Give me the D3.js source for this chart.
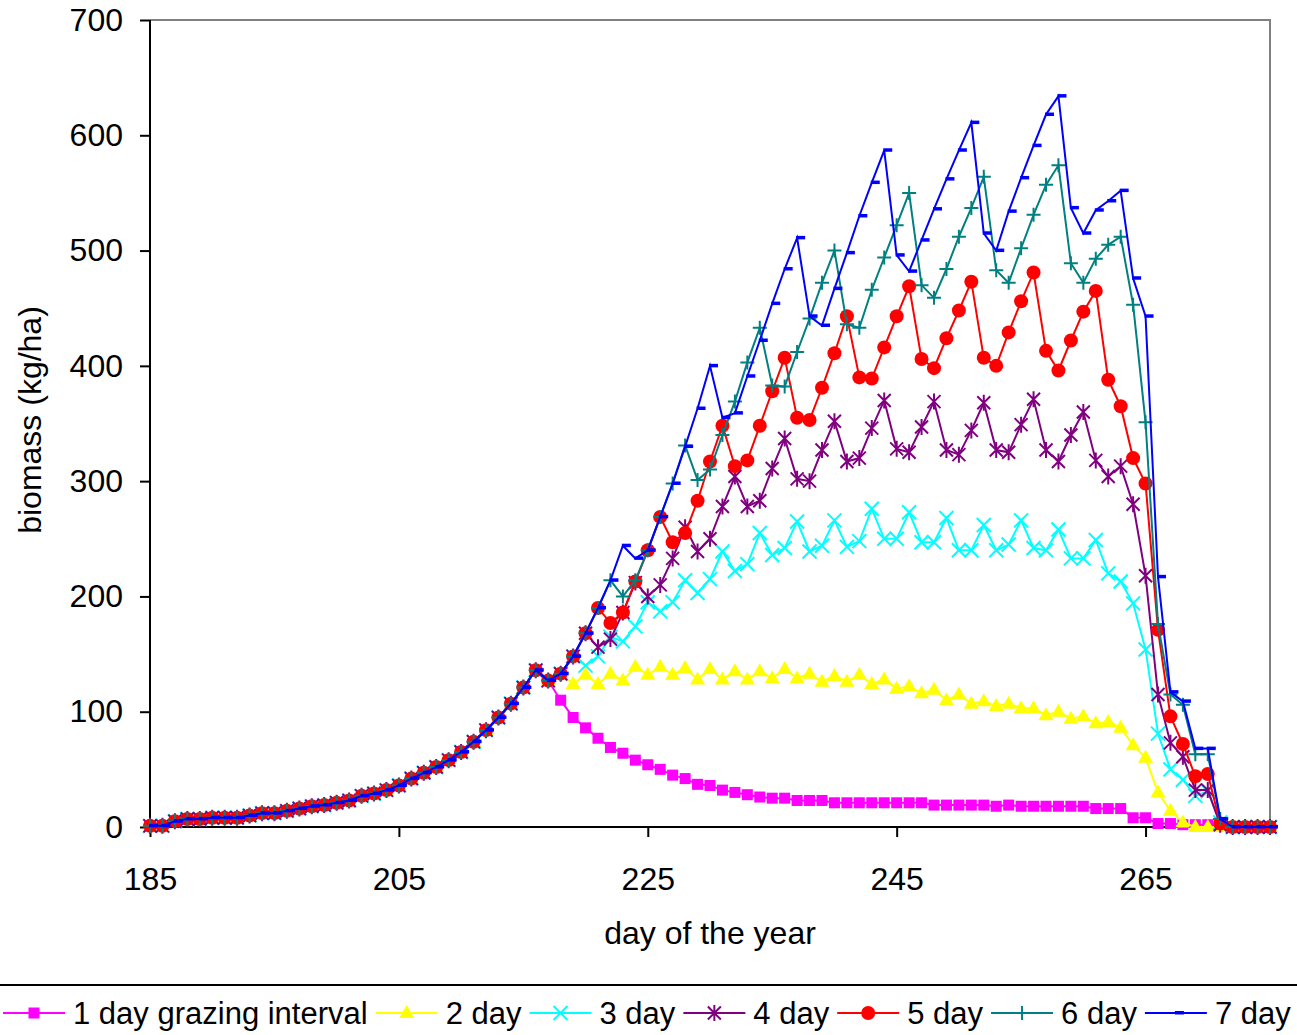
<!DOCTYPE html>
<html>
<head>
<meta charset="utf-8">
<script src="https://cdn.jsdelivr.net/npm/d3@7"></script>
<style>
  html, body { margin: 0; padding: 0; background: #fff; }
  svg { display: block; }
  text { font-family: "Liberation Sans", Arial, sans-serif; fill: #000; }
</style>
</head>
<body>
<div id="chart"></div>
<script>
// ---------------- data ----------------
const firstDay = 185, lastDay = 275;
const xTicks = [185, 205, 225, 245, 265];
const yTicks = [0, 100, 200, 300, 400, 500, 600, 700];

// days 185..216 : identical for all series (before grazing starts)
const preGrazing = [1, 1, 5, 7, 7, 8, 8, 8, 10, 12, 12, 14, 16, 18, 19, 21,
  23, 27, 29, 32, 36, 42, 47, 52, 58, 65, 74, 84, 95, 107, 121, 136];

// days 217..275
const day1 = [127, 110, 95, 86, 77, 69, 64, 58, 54, 50, 45, 42, 37, 36, 32, 30,
  28, 26, 25, 25, 23, 23, 23, 21, 21, 21, 21, 21, 21, 21, 21, 19, 19, 19, 19, 19,
  18, 19, 18, 18, 18, 18, 18, 18, 16, 16, 16, 8, 8, 3, 3, 2, 2, 2, 1, 0, 0, 0, 0];
const day2 = [127, 133, 124, 132, 124, 133, 127, 139, 132, 139, 132, 138, 128, 137,
  128, 135, 128, 135, 129, 137, 129, 133, 126, 131, 126, 132, 124, 128, 120, 122,
  116, 119, 110, 115, 107, 109, 105, 107, 103, 103, 97, 100, 94, 96, 90, 91, 86,
  71, 60, 30, 14, 4, 0, 0, 0, 0, 0, 0, 0];
const day3 = [127, 133, 148, 140, 148, 165, 161, 174, 195, 187, 195, 214, 203, 215,
  239, 222, 228, 255, 236, 242, 265, 239, 244, 266, 243, 248, 276, 250, 250, 273,
  247, 247, 268, 240, 240, 262, 240, 245, 266, 242, 240, 258, 233, 233, 249, 220,
  213, 194, 154, 81, 50, 41, 27, 31, 4, 0, 0, 0, 0];
const day4 = [127, 133, 148, 168, 156, 163, 186, 212, 200, 210, 233, 260, 239, 250,
  278, 304, 278, 283, 311, 337, 302, 300, 327, 352, 317, 320, 346, 370, 328, 325,
  347, 369, 327, 323, 344, 368, 327, 325, 349, 371, 327, 317, 340, 360, 318, 304,
  313, 280, 218, 115, 73, 61, 32, 32, 2, 0, 0, 0, 0];
const day5 = [127, 133, 148, 168, 190, 177, 186, 213, 240, 269, 247, 255, 283, 317,
  348, 313, 318, 348, 378, 407, 355, 353, 381, 411, 443, 390, 389, 416, 443, 469,
  406, 398, 424, 448, 473, 407, 400, 429, 456, 481, 413, 396, 422, 447, 465, 388,
  365, 320, 298, 171, 96, 72, 44, 46, 3, 0, 0, 0, 0];
const day6 = [127, 133, 148, 168, 190, 214, 200, 214, 240, 269, 298, 331, 301, 310,
  340, 369, 403, 433, 383, 382, 412, 441, 472, 500, 436, 433, 466, 494, 522, 550,
  470, 459, 484, 512, 537, 564, 483, 472, 502, 531, 557, 574, 489, 472, 493, 505,
  512, 453, 351, 176, 115, 106, 63, 63, 7, 0, 0, 0, 0];
const day7 = [127, 133, 148, 168, 190, 214, 244, 233, 240, 269, 298, 330, 363, 400,
  355, 359, 391, 422, 454, 484, 511, 443, 435, 467, 498, 530, 559, 587, 496, 482,
  509, 536, 562, 587, 611, 515, 500, 534, 563, 591, 618, 634, 537, 515, 535, 543,
  552, 476, 443, 217, 117, 109, 68, 68, 7, 0, 0, 0, 0];

const seriesNames = ["1 day grazing interval", "2 day", "3 day", "4 day", "5 day", "6 day", "7 day"];
const seriesColors = ["#FF00FF", "#FFFF00", "#00FFFF", "#800080", "#FF0000", "#008080", "#0000FF"];
const seriesMarkers = ["square", "triangle", "x", "star", "circle", "plus", "dash"];
const seriesTails = [day1, day2, day3, day4, day5, day6, day7];

const days = d3.range(firstDay, lastDay + 1);
const series = seriesTails.map((tail, i) => ({
  name: seriesNames[i], color: seriesColors[i], marker: seriesMarkers[i],
  values: preGrazing.concat(tail).map((v, j) => ({ day: days[j], v }))
}));

// ---------------- layout ----------------
const W = 1297, H = 1035;
const plot = { left: 150, right: 1270, top: 20, bottom: 827 };
const svg = d3.select("#chart").append("svg").attr("width", W).attr("height", H);

const x = d3.scaleLinear().domain([firstDay, lastDay]).range([plot.left, plot.right]);
const y = d3.scaleLinear().domain([0, 700]).range([plot.bottom, plot.top]);

// plot area frame (grey top/right)
svg.append("path")
  .attr("d", `M${plot.left},${plot.top}H${plot.right}V${plot.bottom}`)
  .attr("fill", "none").attr("stroke", "#808080").attr("stroke-width", 2);

// axes
const yAxis = d3.axisLeft(y).tickValues(yTicks).tickSize(10).tickPadding(17);
const gy = svg.append("g").attr("transform", `translate(${plot.left},0)`).call(yAxis);
const xAxis = d3.axisBottom(x).tickValues(xTicks).tickSize(10).tickPadding(30);
const gx = svg.append("g").attr("transform", `translate(0,${plot.bottom})`).call(xAxis);
[gx, gy].forEach(g => {
  g.select(".domain").attr("stroke", "#000").attr("stroke-width", 2);
  g.selectAll(".tick line").attr("stroke", "#000").attr("stroke-width", 2);
  g.selectAll(".tick text").attr("font-size", 32).attr("font-family", '"Liberation Sans", Arial, sans-serif').attr("fill", "#000");
});
gx.select(".domain").attr("d", `M${plot.left},0H${plot.right}`);
gy.select(".domain").attr("d", `M0,${plot.bottom}V${plot.top}`);

// axis titles
svg.append("text").attr("x", 710).attr("y", 944).attr("text-anchor", "middle")
  .attr("font-size", 32).text("day of the year");
svg.append("text").attr("transform", "translate(41,420) rotate(-90)")
  .attr("text-anchor", "middle").attr("font-size", 32).text("biomass (kg/ha)");

// ---------------- markers ----------------
function drawMarker(g, type, color, cx, cy) {
  switch (type) {
    case "square":
      g.append("rect").attr("x", cx - 5.5).attr("y", cy - 5.5).attr("width", 11).attr("height", 11).attr("fill", color);
      break;
    case "triangle":
      g.append("path").attr("d", `M${cx},${cy - 8}L${cx + 7.5},${cy + 5}L${cx - 7.5},${cy + 5}Z`).attr("fill", color);
      break;
    case "x":
      g.append("path").attr("d", `M${cx - 7},${cy - 7}L${cx + 7},${cy + 7}M${cx - 7},${cy + 7}L${cx + 7},${cy - 7}`)
        .attr("stroke", color).attr("stroke-width", 2).attr("fill", "none");
      break;
    case "star":
      g.append("path").attr("d", `M${cx - 6.5},${cy - 6.5}L${cx + 6.5},${cy + 6.5}M${cx - 6.5},${cy + 6.5}L${cx + 6.5},${cy - 6.5}M${cx},${cy - 8}V${cy + 8}`)
        .attr("stroke", color).attr("stroke-width", 2).attr("fill", "none");
      break;
    case "circle":
      g.append("circle").attr("cx", cx).attr("cy", cy).attr("r", 7).attr("fill", color);
      break;
    case "plus":
      g.append("path").attr("d", `M${cx - 7},${cy}H${cx + 7}M${cx},${cy - 7}V${cy + 7}`)
        .attr("stroke", color).attr("stroke-width", 2).attr("fill", "none");
      break;
    case "dash":
      g.append("rect").attr("x", cx - 1).attr("y", cy - 2).attr("width", 9).attr("height", 3.5).attr("fill", color);
      break;
  }
}

// ---------------- series ----------------
const line = d3.line().x(d => x(d.day)).y(d => y(d.v));
series.forEach(s => {
  const g = svg.append("g");
  g.append("path").datum(s.values).attr("d", line)
    .attr("fill", "none").attr("stroke", s.color).attr("stroke-width", 2).attr("stroke-linejoin", "miter");
  s.values.forEach(d => drawMarker(g, s.marker, s.color, x(d.day), y(d.v)));
});

// ---------------- legend ----------------
svg.append("line").attr("x1", 0).attr("x2", W).attr("y1", 985).attr("y2", 985)
  .attr("stroke", "#000").attr("stroke-width", 2);
const legY = 1013;
let lx = 3;
series.forEach(s => {
  const g = svg.append("g");
  g.append("line").attr("x1", lx).attr("x2", lx + 62).attr("y1", legY).attr("y2", legY)
    .attr("stroke", s.color).attr("stroke-width", 2);
  drawMarker(g, s.marker, s.color, lx + 31, legY);
  const t = g.append("text").attr("x", lx + 70).attr("y", legY + 11).attr("font-size", 31).text(s.name);
  lx = lx + 70 + t.node().getComputedTextLength() + 8;
});
</script>
</body>
</html>
